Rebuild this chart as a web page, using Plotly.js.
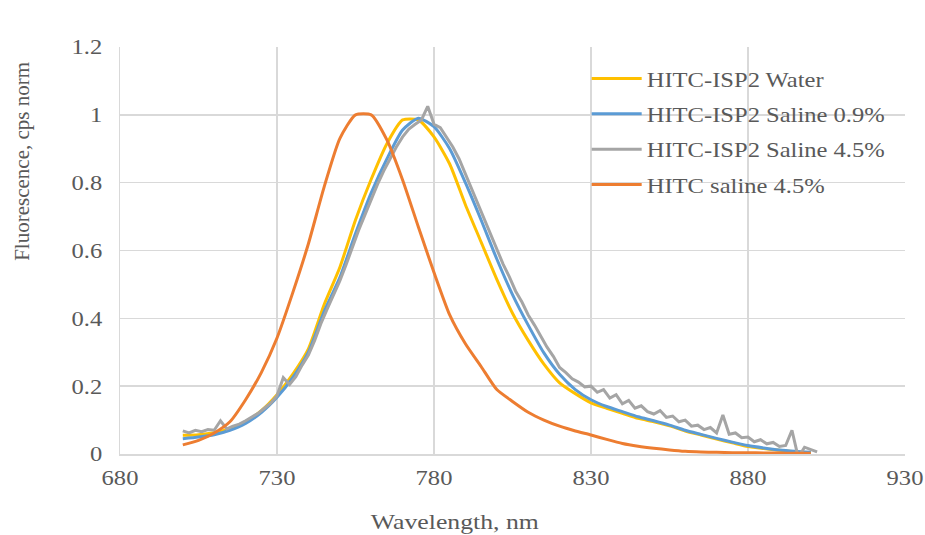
<!DOCTYPE html>
<html>
<head>
<meta charset="utf-8">
<script src="https://cdn.plot.ly/plotly-3.0.1.min.js"></script>
<style>html,body{margin:0;padding:0;background:#fff;}#chart{width:925px;height:535px;}</style>
</head>
<body>
<div id="chart"></div>
<script>
// Wavelength grid (nm) for the smoother series
var wl5 = [700,705,710,715,720,725,730,735,740,745,750,755,760,765,770,775,780,785,790,795,800,805,810,815,820,825,830,835,840,845,850,855,860,865,870,875,880,885,890,895,900];

var water = [0.055,0.057,0.063,0.075,0.095,0.128,0.175,0.235,0.31,0.44,0.55,0.69,0.81,0.915,0.985,0.985,0.935,0.855,0.735,0.625,0.515,0.415,0.335,0.265,0.21,0.178,0.151,0.135,0.12,0.105,0.095,0.083,0.068,0.056,0.044,0.033,0.022,0.016,0.011,0.007,0.004];

var saline09 = [0.045,0.05,0.057,0.07,0.09,0.122,0.167,0.225,0.30,0.42,0.52,0.65,0.77,0.87,0.955,0.99,0.965,0.90,0.80,0.69,0.575,0.47,0.38,0.298,0.235,0.19,0.16,0.14,0.125,0.11,0.098,0.085,0.07,0.058,0.046,0.035,0.025,0.018,0.012,0.008,0.005];

var hitcSaline45 = [0.027,0.04,0.062,0.095,0.16,0.24,0.342,0.475,0.62,0.787,0.93,1.0,1.0,0.926,0.808,0.67,0.535,0.41,0.325,0.258,0.19,0.155,0.123,0.1,0.082,0.068,0.056,0.043,0.031,0.023,0.017,0.012,0.008,0.006,0.005,0.004,0.004,0.003,0.003,0.002,0.002];

// Noisier series at a finer grid
var wl2 = [700,702,704,706,708,710,712,714,716,718,720,722,724,726,728,730,732,734,736,738,740,742,744,746,748,750,752,754,756,758,760,762,764,766,768,770,772,774,776,778,780,782,784,786,788,790,792,794,796,798,800,802,804,806,808,810,812,814,816,818,820,822,824,826,828,830,832,834,836,838,840,842,844,846,848,850,852,854,856,858,860,862,864,866,868,870,872,874,876,878,880,882,884,886,888,890,892,894,896,898,900,902];

var saline45 = [0.068,0.062,0.070,0.066,0.072,0.070,0.098,0.074,0.082,0.088,0.098,0.108,0.120,0.135,0.150,0.172,0.225,0.205,0.228,0.262,0.292,0.335,0.385,0.428,0.468,0.51,0.558,0.61,0.66,0.705,0.752,0.795,0.835,0.872,0.905,0.935,0.958,0.972,0.985,1.025,0.972,0.962,0.935,0.905,0.87,0.825,0.785,0.738,0.695,0.648,0.603,0.56,0.522,0.48,0.448,0.41,0.38,0.348,0.315,0.288,0.255,0.24,0.222,0.212,0.198,0.2,0.182,0.19,0.165,0.175,0.148,0.158,0.135,0.142,0.125,0.118,0.128,0.108,0.112,0.095,0.1,0.082,0.085,0.072,0.078,0.062,0.115,0.058,0.062,0.048,0.05,0.036,0.042,0.03,0.034,0.022,0.025,0.07,-0.01,0.02,0.012,0.006];

var names = ["HITC-ISP2 Water","HITC-ISP2 Saline 0.9%","HITC-ISP2 Saline 4.5%","HITC saline 4.5%"];
var colors = ["#FFC000","#5B9BD5","#A5A5A5","#ED7D31"];
var xTicks = [680,730,780,830,880,930];
var yTicks = [0,0.2,0.4,0.6,0.8,1,1.2];
var yTickText = ["0","0.2","0.4","0.6","0.8","1","1.2"];
var xTitle = "Wavelength, nm";
var yTitle = "Fluorescence, cps norm";

var xs = [wl5, wl5, wl2, wl5];
var ys = [water, saline09, saline45, hitcSaline45];
var shapes = ['spline','spline','linear','spline'];

var traces = ys.map(function(y, i){
  return {
    x: xs[i], y: y, type: 'scatter', mode: 'lines', name: names[i],
    legendgroup: 'g'+i,
    line: {color: colors[i], width: 3, shape: shapes[i], smoothing: 0.6}, hoverinfo: 'skip'
  };
});

var fam = 'Liberation Serif, Times New Roman, serif';
var fcol = '#595959';

var layout = {
  width: 925, height: 535,
  margin: {l: 120, r: 20, t: 47, b: 81},
  paper_bgcolor: '#ffffff', plot_bgcolor: '#ffffff',
  font: {family: fam, color: fcol, size: 21},
  showlegend: true,
  legend: {
    x: 0.5945, y: 0.972, xanchor: 'left', yanchor: 'top',
    bgcolor: 'rgba(255,255,255,0)', borderwidth: 0,
    font: {family: fam, color: fcol, size: 21},
    tracegroupgap: 5, itemwidth: 50
  },
  xaxis: {
    range: [680, 930], tickvals: xTicks, ticktext: xTicks.map(String),
    showgrid: true, gridcolor: '#D9D9D9', gridwidth: 1.5,
    zeroline: false, showline: true, linecolor: '#D9D9D9', linewidth: 1.5,
    ticks: 'outside', ticklen: 4, tickcolor: 'rgba(0,0,0,0)',
    tickfont: {family: fam, color: fcol, size: 21}
  },
  yaxis: {
    range: [0, 1.2], tickvals: yTicks, ticktext: yTickText,
    showgrid: true, gridcolor: '#D9D9D9', gridwidth: 1.5,
    zeroline: false, showline: true, linecolor: '#D9D9D9', linewidth: 1.5,
    ticks: 'outside', ticklen: 12, tickcolor: 'rgba(0,0,0,0)',
    tickfont: {family: fam, color: fcol, size: 21}
  },
  annotations: [
    {text: xTitle, xref: 'paper', yref: 'paper', x: 0.427, y: -0.165, xanchor: 'center', yanchor: 'middle',
     showarrow: false, font: {family: fam, color: fcol, size: 22}},
    {text: yTitle, xref: 'paper', yref: 'paper', x: -0.125, y: 0.72, xanchor: 'center', yanchor: 'middle',
     textangle: -90, showarrow: false, font: {family: fam, color: fcol, size: 21}}
  ]
};

Plotly.newPlot('chart', traces, layout, {staticPlot: true, displayModeBar: false}).then(function(gd){
  // the reference's lettering is slightly wider than the font: widen horizontal texts a little
  var s = 1.17;
  var nodes = gd.querySelectorAll('.xtick text, .ytick text, .legendtext');
  var ann = gd.querySelectorAll('.annotation-text');
  var list = Array.prototype.slice.call(nodes);
  if (ann.length) list.push(ann[0]);
  list.forEach(function(t){
    var x = parseFloat(t.getAttribute('x')) || 0;
    var tr = t.getAttribute('transform') || '';
    t.setAttribute('transform', tr + ' translate(' + x + ',0) scale(' + s + ',1) translate(' + (-x) + ',0)');
  });
  // let the widened legend labels show in full
  Array.prototype.forEach.call(gd.querySelectorAll('.legend [clip-path], .legend'), function(el){
    el.removeAttribute('clip-path');
  });
});
</script>
</body>
</html>
